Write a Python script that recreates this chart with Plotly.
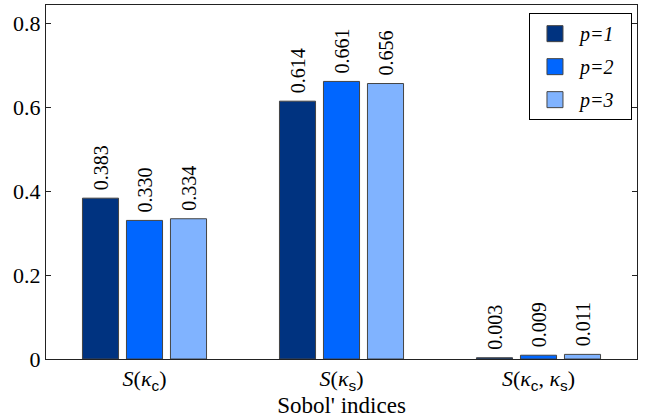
import plotly.graph_objects as go

categories = ["S(kc)", "S(ks)", "S(kc,ks)"]
tick_labels = [
    "<i>S</i>(<i>κ</i><sub><span style='font-family:Liberation Sans'>c</span></sub>)",
    "<i>S</i>(<i>κ</i><sub><span style='font-family:Liberation Sans'>s</span></sub>)",
    "<i>S</i>(<i>κ</i><sub><span style='font-family:Liberation Sans'>c</span></sub>, <i>κ</i><sub><span style='font-family:Liberation Sans'>s</span></sub>)",
]
series_names = ["p=1", "p=2", "p=3"]
p1 = [0.383, 0.614, 0.003]
p2 = [0.330, 0.661, 0.009]
p3 = [0.334, 0.656, 0.011]
series_values = [p1, p2, p3]
colors = ["#003380", "#0066FF", "#80B3FF"]

y_ticks = [0, 0.2, 0.4, 0.6, 0.8]
y_tick_labels = ["0", "0.2", "0.4", "0.6", "0.8"]

SERIF = "Liberation Serif"

fig = go.Figure()
for name, vals, col in zip(series_names, series_values, colors):
    fig.add_trace(go.Bar(
        x=categories, y=vals, name=name, showlegend=False,
        marker=dict(color=col, line=dict(color="#444444", width=1)),
        text=vals, texttemplate="&nbsp;%{y:.3f}", textposition="outside",
        textangle=-90, constraintext="none", cliponaxis=False,
        textfont=dict(family=SERIF, size=20, color="black"),
    ))
# legend entries (square swatches)
for name, col in zip(series_names, colors):
    fig.add_trace(go.Scatter(
        x=[None], y=[None], mode="markers",
        name="<i>" + name + "</i>&nbsp;&nbsp;",
        legendgroup=name,
        marker=dict(symbol="square", size=16, color=col,
                    line=dict(color="#444444", width=1)),
    ))

fig.update_layout(
    width=647, height=418,
    margin=dict(l=46, r=10, t=5, b=59),
    paper_bgcolor="white", plot_bgcolor="white",
    barmode="group", bargap=0.33, bargroupgap=0.18,
    font=dict(family=SERIF, size=22, color="black"),
    legend=dict(
        x=0.9915, xanchor="right", y=0.977, yanchor="top",
        bordercolor="black", borderwidth=1, bgcolor="white",
        font=dict(family=SERIF, size=20, color="black"),
        itemwidth=40, tracegroupgap=4, traceorder="grouped",
    ),
    xaxis=dict(
        tickvals=categories, ticktext=tick_labels,
        showline=True, linecolor="#222222", linewidth=1, mirror=True,
        ticks="", showgrid=False, range=[-0.5, 2.5],
        tickfont=dict(family=SERIF, size=22),
        title=dict(text="Sobol' indices", font=dict(family=SERIF, size=23), standoff=0),
    ),
    yaxis=dict(
        range=[0, 0.843], tickvals=y_ticks, ticktext=y_tick_labels,
        showline=True, linecolor="#222222", linewidth=1, mirror="ticks",
        ticks="inside", ticklen=5, tickcolor="#222222",
        showgrid=False, zeroline=False,
        tickfont=dict(family=SERIF, size=22),
    ),
)

fig.write_html("out.html", config={"displayModeBar": False},
               post_script="document.body.style.margin='0';")
